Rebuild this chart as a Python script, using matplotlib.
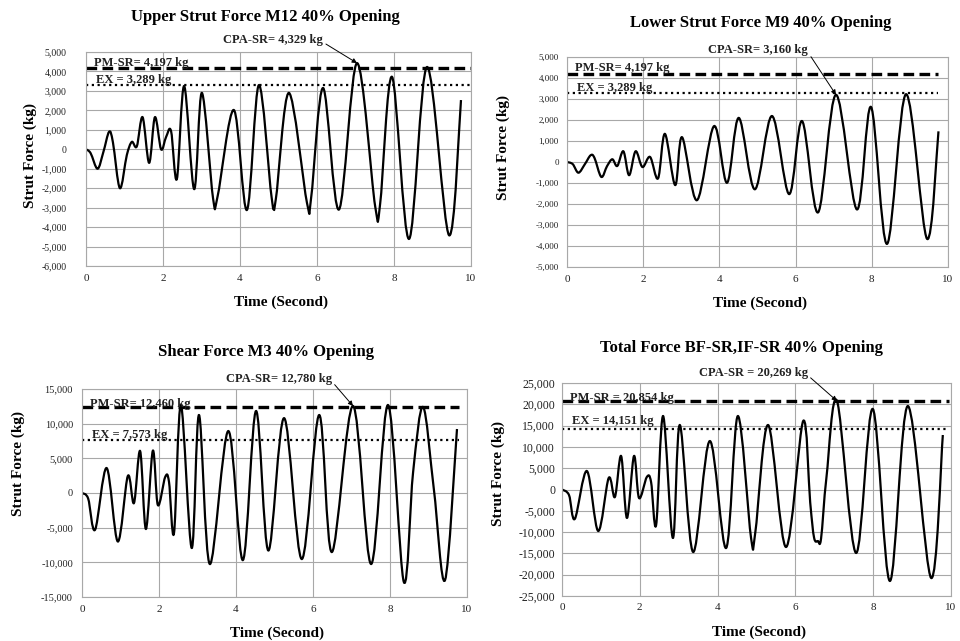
import numpy as np
import matplotlib
matplotlib.use('Agg')
import matplotlib.pyplot as plt
from matplotlib.path import Path
from matplotlib.patches import PathPatch
from matplotlib.ticker import FuncFormatter, MultipleLocator

plt.rcParams['font.family'] = ['Liberation Serif', 'DejaVu Serif']

# ---- data ----
# Upper strut force M12
t1 = [0, 0.12, 0.30, 0.45, 0.60, 0.70, 0.88, 1.06, 1.19, 1.32, 1.47, 1.64, 1.79, 1.95, 2.08,
      2.21, 2.36, 2.55, 2.81, 3.01, 3.30, 3.42, 3.84, 4.18, 4.49, 4.82, 4.93, 5.27,
      5.74, 5.85, 6.16, 6.57, 7.04, 7.51, 7.64, 7.95, 8.39, 8.86, 9.43, 9.74]
v1 = [0, -200, -1000, -150, 900, 350, -2000, -300, 380, 150, 1650, -700, 1650, 0, 630,
      930, -1530, 3250, -2050, 2900, -2520, -2400, 2020, -3120, 3300, -2450, -2570, 2900,
      -2760, -2450, 3150, -3100, 4430, -2920, -2800, 3720, -4610, 4230, -4420, 2530]

# Lower strut force M9
t2 = [0, 0.15, 0.30, 0.47, 0.62, 0.72, 0.90, 1.05, 1.19, 1.32, 1.48, 1.63, 1.80, 1.98, 2.18,
      2.39, 2.57, 2.84, 3.02, 3.41, 3.86, 4.20, 4.51, 4.93, 5.38, 5.83, 6.17, 6.59, 7.06,
      7.61, 7.98, 8.40, 8.90, 9.45, 9.75]
v2 = [0, -100, -510, -100, 320, 200, -710, -200, 130, -190, 510, -630, 510, -240, 240,
      -780, 1340, -1100, 1180, -1820, 1710, -990, 2100, -1300, 2190, -1530, 1950, -2400, 3200,
      -2260, 2620, -3900, 3230, -3660, 1460]

# Shear force M3
t3 = [0, 0.16, 0.34, 0.64, 0.93, 1.19, 1.35, 1.51, 1.66, 1.84, 1.97, 2.16, 2.26, 2.39,
      2.57, 2.85, 3.04, 3.32, 3.80, 4.18, 4.52, 4.84, 5.25, 5.71, 6.16, 6.49, 7.04, 7.51,
      7.95, 8.36, 8.60, 8.86, 9.14, 9.43, 9.74]
v3 = [0, -800, -5300, 3600, -7000, 2450, -1450, 6050, -5200, 6100, -1740, 2300, 1600, -5780,
      12690, -7940, 11250, -10250, 8940, -9680, 11830, -8300, 10800, -9530, 11250, -8520, 12550, -10250,
      12690, -12850, 3000, 12400, 500, -12560, 9230]

# Total force BF-SR, IF-SR
t4 = [0, 0.18, 0.33, 0.64, 0.93, 1.20, 1.36, 1.52, 1.67, 1.85, 1.98, 2.18, 2.29, 2.42,
      2.60, 2.85, 3.03, 3.37, 3.80, 4.22, 4.52, 4.86, 4.97, 5.30, 5.76, 6.20, 6.38, 6.48,
      6.58, 6.66, 6.80, 7.07, 7.56, 7.99, 8.43, 8.89, 9.49, 9.79]
v4 = [0, -1300, -6900, 4340, -9740, 2700, -1760, 7860, -6690, 7860, -2000, 2930, 1760, -8330,
      17250, -11380, 15140, -14670, 11380, -13730, 17250, -11380, -10000, 15140, -13500, 16080, -3000, -11300,
      -12100, -11500, 3000, 20770, -14900, 18900, -21480, 19600, -20770, 12790]

titles = ['Upper Strut Force M12 40% Opening', 'Lower Strut Force M9 40% Opening',
          'Shear Force M3 40% Opening', 'Total Force BF-SR,IF-SR 40% Opening']
pm_levels = [4197, 4197, 12460, 20854]
ex_levels = [3289, 3289, 7573, 14151]
pm_labels = ['PM-SR= 4,197 kg', 'PM-SR= 4,197 kg', 'PM-SR= 12,460 kg', 'PM-SR = 20,854 kg']
ex_labels = ['EX = 3,289 kg', 'EX = 3,289 kg', 'EX = 7,573 kg', 'EX = 14,151 kg']
cpa_labels = ['CPA-SR= 4,329 kg', 'CPA-SR= 3,160 kg', 'CPA-SR= 12,780 kg', 'CPA-SR = 20,269 kg']
cpa_peak = [(7.04, 4430), (7.06, 3200), (7.04, 12550), (7.07, 20770)]
cpa_text = [(6.16, 5620), (6.33, 5330), (6.49, 16440), (6.32, 27350)]
ylims = [(-6000, 5000), (-5000, 5000), (-15000, 15000), (-25000, 25000)]
ysteps = [1000, 1000, 5000, 5000]
line_end = [10, 9.75, 9.8, 9.95]

# layout in pixels (left, top, right, bottom)
boxes = [(86, 52, 471, 266), (567, 57, 948, 267), (82, 389, 467, 597), (562, 383, 951, 596)]
title_pos = [(265, 17), (761, 23), (266, 352), (741, 348)]
ylab_pos = [(30, 155), (503, 147), (18, 463), (498, 473)]
pm_dy = [1, 2, 0, 0]
ex_dy = [1.5, 1.5, 2, 3.5]
ytick_fs = [7, 6.5, 7.5, 8.5]
ytick_pad = [14, 6, 6.5, 5]
xtick_pad = [6, 5.5, 5.5, 5]


def smooth_path(x, y):
    # Excel style smoothed line: cubic Bezier through every point
    x = np.asarray(x, float)
    y = np.asarray(y, float)
    n = len(x)
    verts = [(x[0], y[0])]
    codes = [Path.MOVETO]
    for k in range(n - 1):
        a = max(k - 1, 0)
        d = min(k + 2, n - 1)
        c1 = (x[k] + (x[k + 1] - x[a]) / 6, y[k] + (y[k + 1] - y[a]) / 6)
        c2 = (x[k + 1] - (x[d] - x[k]) / 6, y[k + 1] - (y[d] - y[k]) / 6)
        verts += [c1, c2, (x[k + 1], y[k + 1])]
        codes += [Path.CURVE4] * 3
    return Path(verts, codes)


W, H = 960, 641
fig = plt.figure(figsize=(W / 100, H / 100), dpi=100)

series = [(t1, v1), (t2, v2), (t3, v3), (t4, v4)]
grey = '#a8a8a8'

for i, (t, v) in enumerate(series):
    l, tp, r, b = boxes[i]
    ax = fig.add_axes([l / W, 1 - b / H, (r - l) / W, (b - tp) / H])
    ax.set_xlim(0, 10)
    ax.set_ylim(*ylims[i])
    ax.xaxis.set_major_locator(MultipleLocator(2))
    ax.yaxis.set_major_locator(MultipleLocator(ysteps[i]))
    ax.yaxis.set_major_formatter(FuncFormatter(lambda x, p: f'{x:,.0f}'))
    ax.grid(True, color=grey, lw=0.8)
    ax.set_axisbelow(True)
    for s in ax.spines.values():
        s.set_color(grey)
        s.set_linewidth(0.8)
    ax.tick_params(length=0, colors='#222222')
    ax.tick_params(axis='y', labelsize=ytick_fs[i], pad=ytick_pad[i])
    ax.tick_params(axis='x', labelsize=8, pad=xtick_pad[i])

    ax.add_patch(PathPatch(smooth_path(t, v), facecolor='none', edgecolor='black',
                           lw=1.6, joinstyle='round'))
    ax.hlines(pm_levels[i], 0, line_end[i], color='black', lw=2.4, linestyles=[(0, (3.2, 1.6))])
    ax.hlines(ex_levels[i], 0, line_end[i], color='black', lw=1.6, linestyles=[(0, (1, 1.6))])

    ax.annotate(pm_labels[i], xy=(0.2, pm_levels[i]), xytext=(0, pm_dy[i]),
                textcoords='offset points', va='baseline', ha='left',
                fontsize=9, fontweight='bold', color='#222222')
    ax.annotate(ex_labels[i], xy=(0.25, ex_levels[i]), xytext=(0, ex_dy[i]),
                textcoords='offset points', va='baseline', ha='left',
                fontsize=9, fontweight='bold', color='#222222')
    ax.annotate(cpa_labels[i], xy=cpa_peak[i], xytext=cpa_text[i], textcoords='data',
                ha='right', va='center', fontsize=9, fontweight='bold', color='#222222',
                annotation_clip=False,
                arrowprops=dict(arrowstyle='-|>', color='black', lw=0.7,
                                mutation_scale=7, relpos=(1.0, 0.3), shrinkA=0, shrinkB=0))

    fig.text(title_pos[i][0] / W, 1 - title_pos[i][1] / H, titles[i], ha='center', va='center',
             fontsize=12, fontweight='bold')
    fig.text(ylab_pos[i][0] / W, 1 - ylab_pos[i][1] / H, 'Strut Force (kg)', ha='center', va='center',
             rotation=90, fontsize=11, fontweight='bold')
    cx = (l + r) / 2
    fig.text(cx / W + 0.003, 1 - (b + 36) / H, 'Time (Second)', ha='center', va='center',
             fontsize=11, fontweight='bold')

fig.savefig('out.png', dpi=100)
